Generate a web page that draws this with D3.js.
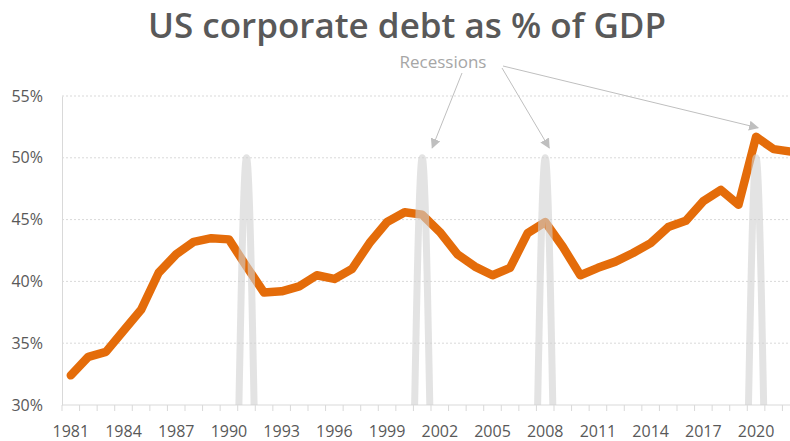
<!DOCTYPE html>
<html>
<head>
<meta charset="utf-8">
<script src="https://cdn.jsdelivr.net/npm/d3@7"></script>
<style>
  body { margin: 0; background: #fff; }
  svg { display: block; font-family: "Open Sans", sans-serif; }
</style>
</head>
<body>
<svg id="chart"></svg>
<script>
const years = [1981, 1982, 1983, 1984, 1985, 1986, 1987, 1988, 1989, 1990,
  1991, 1992, 1993, 1994, 1995, 1996, 1997, 1998, 1999, 2000,
  2001, 2002, 2003, 2004, 2005, 2006, 2007, 2008, 2009, 2010,
  2011, 2012, 2013, 2014, 2015, 2016, 2017, 2018, 2019, 2020,
  2021, 2022]

// corporate debt, % of GDP
const debt = [32.4, 33.9, 34.3, 36.0, 37.7, 40.7, 42.2, 43.2, 43.5, 43.4,
  41.2, 39.1, 39.2, 39.6, 40.5, 40.2, 41.0, 43.1, 44.8, 45.6,
  45.4, 44.0, 42.2, 41.2, 40.5, 41.1, 43.9, 44.8, 42.8, 40.5,
  41.1, 41.6, 42.3, 43.1, 44.4, 44.9, 46.5, 47.4, 46.2, 51.7,
  50.7, 50.5]

// recession marker series (50 = recession year)
const recession = [0, 0, 0, 0, 0, 0, 0, 0, 0, 0,
  50, 0, 0, 0, 0, 0, 0, 0, 0, 0,
  50, 0, 0, 0, 0, 0, 0, 50, 0, 0,
  0, 0, 0, 0, 0, 0, 0, 0, 0, 50,
  0, 0]

const yTicks = [30, 35, 40, 45, 50, 55]
const labelYears = [1981, 1984, 1987, 1990, 1993, 1996, 1999, 2002, 2005, 2008, 2011, 2014, 2017, 2020]

const width = 790
const height = 441
const margin = {top: 96, left: 62, bottom: 36}

const svg = d3.select("#chart")
  .attr("width", width)
  .attr("height", height)

const x = d3.scaleBand()
  .domain(years)
  .range([margin.left, 800])

const y = d3.scaleLinear()
  .domain([30, 55])
  .range([height - margin.bottom, margin.top])

const cx = d => x(d) + x.bandwidth() / 2

svg.append("text")
  .attr("x", 407)
  .attr("y", 38)
  .attr("text-anchor", "middle")
  .attr("fill", "#595959")
  .attr("font-size", 35)
  .attr("font-weight", 600)
  .text("US corporate debt as % of GDP")

// gridlines
svg.append("g")
  .selectAll("line")
  .data(yTicks.slice(1))
  .join("line")
  .attr("x1", margin.left)
  .attr("x2", width)
  .attr("y1", d => y(d))
  .attr("y2", d => y(d))
  .attr("stroke", "#d9d9d9")
  .attr("stroke-dasharray", "2,2")

// y axis
const yAxis = svg.append("g")
  .attr("transform", `translate(${margin.left},0)`)
  .call(d3.axisLeft(y).tickValues(yTicks).tickSize(0).tickPadding(19).tickFormat(d => d + "%"))
yAxis.select(".domain").attr("stroke", "#d9d9d9")
yAxis.selectAll("text").attr("fill", "#595959").attr("font-size", 16)
  .attr("font-family", "Open Sans, sans-serif")

// x axis
const xAxis = svg.append("g")
  .attr("transform", `translate(0,${y(30)})`)
xAxis.append("line")
  .attr("x1", margin.left).attr("x2", width)
  .attr("stroke", "#d9d9d9")
xAxis.selectAll(".tk")
  .data(years)
  .join("line")
  .attr("class", "tk")
  .attr("x1", d => x(d)).attr("x2", d => x(d))
  .attr("y1", 0).attr("y2", 6)
  .attr("stroke", "#d9d9d9")
xAxis.selectAll("text")
  .data(labelYears)
  .join("text")
  .attr("x", d => cx(d))
  .attr("y", 32)
  .attr("text-anchor", "middle")
  .attr("fill", "#595959")
  .attr("font-size", 16)
  .text(d => d)

svg.append("clipPath").attr("id", "plot")
  .append("rect")
  .attr("x", margin.left).attr("y", 0)
  .attr("width", width).attr("height", y(30))

const debtLine = d3.line()
  .x((d, i) => cx(years[i]))
  .y(d => y(d))

svg.append("path")
  .datum(debt)
  .attr("clip-path", "url(#plot)")
  .attr("d", debtLine)
  .attr("fill", "none")
  .attr("stroke", "#e46c0a")
  .attr("stroke-width", 8.5)
  .attr("stroke-linejoin", "round")
  .attr("stroke-linecap", "round")

const recLine = d3.line()
  .x((d, i) => cx(years[i]))
  .y(d => y(d))
  .curve(d3.curveMonotoneX)

svg.append("path")
  .datum(recession)
  .attr("clip-path", "url(#plot)")
  .attr("d", recLine)
  .attr("fill", "none")
  .attr("stroke", "#d0d0d0")
  .attr("stroke-opacity", 0.6)
  .attr("stroke-width", 7)
  .attr("stroke-linecap", "round")
  .attr("stroke-linejoin", "round")

// annotation
svg.append("defs").append("marker")
  .attr("id", "arrow")
  .attr("viewBox", "0 0 10 10")
  .attr("refX", 9).attr("refY", 5)
  .attr("markerWidth", 10).attr("markerHeight", 10)
  .attr("markerUnits", "userSpaceOnUse")
  .attr("orient", "auto")
  .append("path")
  .attr("d", "M0,0L10,5L0,10Z")
  .attr("fill", "#bfbfbf")

svg.append("text")
  .attr("x", 443)
  .attr("y", 68)
  .attr("text-anchor", "middle")
  .attr("fill", "#a6a6a6")
  .attr("font-size", 17)
  .text("Recessions")

const arrows = [
  {from: [462, 73], to: [cx(2001) + 10, y(50) - 10]},
  {from: [502, 68], to: [cx(2008) + 4, y(50) - 10]},
  {from: [503, 66], to: [cx(2020) + 2, y(51.7) - 9]}
]

svg.append("g")
  .selectAll("line")
  .data(arrows)
  .join("line")
  .attr("x1", d => d.from[0]).attr("y1", d => d.from[1])
  .attr("x2", d => d.to[0]).attr("y2", d => d.to[1])
  .attr("stroke", "#bfbfbf")
  .attr("stroke-width", 1)
  .attr("marker-end", "url(#arrow)")
</script>
</body>
</html>
